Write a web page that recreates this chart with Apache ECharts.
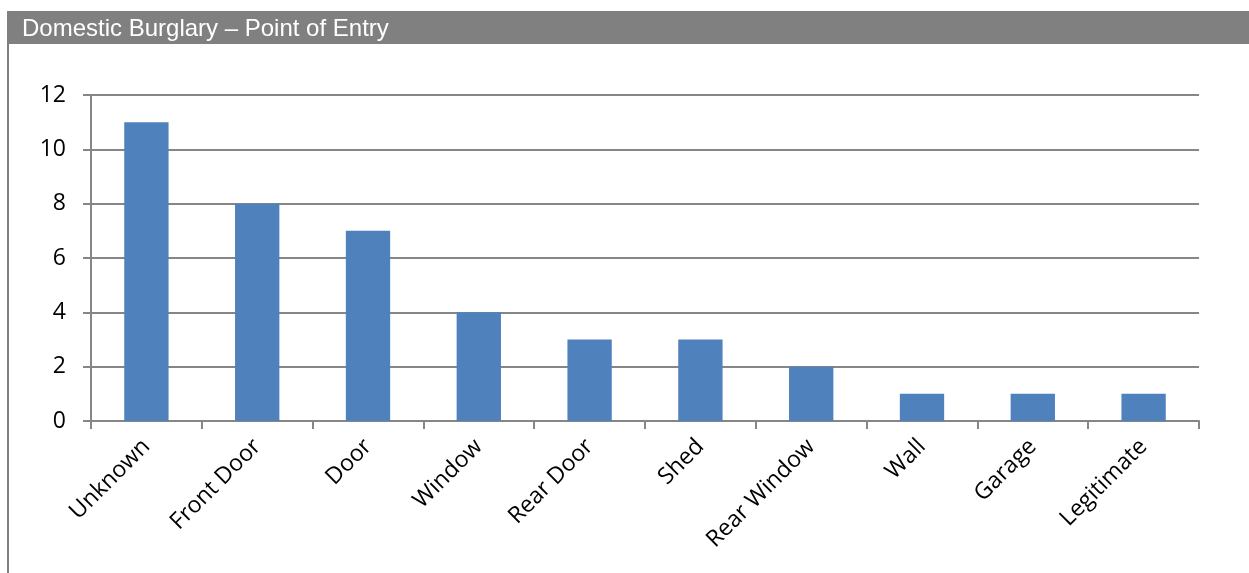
<!DOCTYPE html>
<html><head><meta charset="utf-8">
<script src="https://cdn.jsdelivr.net/npm/echarts@6/dist/echarts.min.js"></script>
<style>html,body{margin:0;padding:0;background:#fff}#c{width:1249px;height:573px}</style>
</head><body><div id="c"></div>
<script>
const titleText = 'Domestic Burglary – Point of Entry';
const categories = ['Unknown','Front Door','Door','Window','Rear Door','Shed','Rear Window','Wall','Garage','Legitimate'];
const values = [11, 8, 7, 4, 3, 3, 2, 1, 1, 1];
const yTicks = {min: 0, max: 12, interval: 2};

const chart = echarts.init(document.getElementById('c'));
chart.setOption({
  animation: false,
  graphic: [
    {type:'rect', shape:{x:7, y:11, width:1242, height:33}, style:{fill:'#808080'}},
    {type:'text', left: 22, top: 17, style:{text: titleText, fill:'#fff', font:'24px "Liberation Sans", Arial, sans-serif'}},
    {type:'line', shape:{x1:8, y1:44, x2:8, y2:573}, style:{stroke:'#808080', lineWidth:2}}
  ],
  grid: {left: 91, right: 50, top: 95, bottom: 152},
  xAxis: {
    type:'category', data: categories,
    axisLine:{lineStyle:{color:'#868686', width:2}},
    axisTick:{show:true, alignWithLabel:false, length:8, lineStyle:{color:'#868686', width:2}},
    axisLabel:{rotate:45, interval:0, color:'#000', fontSize:23, fontFamily:'"Open Sans", sans-serif', margin:22}
  },
  yAxis: {
    type:'value', min: yTicks.min, max: yTicks.max, interval: yTicks.interval,
    axisLine:{show:true, lineStyle:{color:'#868686', width:2}},
    axisTick:{show:true, length:8, lineStyle:{color:'#868686', width:2}},
    splitLine:{lineStyle:{color:'#868686', width:2}},
    axisLabel:{color:'#000', fontSize:23, fontFamily:'"Open Sans", sans-serif', margin:25}
  },
  series: [{
    type:'bar', data: values, barWidth: '40%',
    itemStyle:{color:'#4f81bd'}
  }]
});
</script></body></html>
